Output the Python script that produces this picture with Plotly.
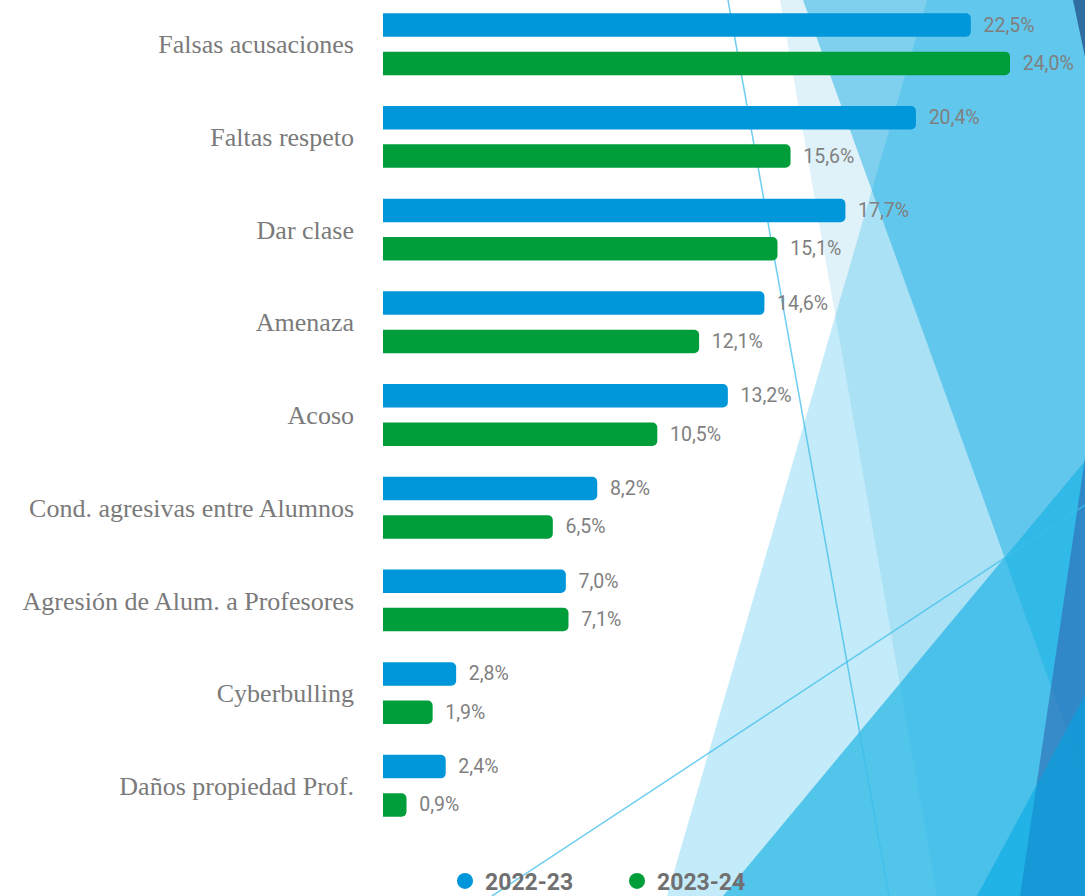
import plotly.graph_objects as go

# ---------------- data ----------------
categories = [
    "Falsas acusaciones",
    "Faltas respeto",
    "Dar clase",
    "Amenaza",
    "Acoso",
    "Cond. agresivas entre Alumnos",
    "Agresión de Alum. a Profesores",
    "Cyberbulling",
    "Daños propiedad Prof.",
]
series_names = ["2022-23", "2023-24"]
values_2022_23 = [22.5, 20.4, 17.7, 14.6, 13.2, 8.2, 7.0, 2.8, 2.4]
values_2023_24 = [24.0, 15.6, 15.1, 12.1, 10.5, 6.5, 7.1, 1.9, 0.9]
series_colors = ["#0096DA", "#009E3A"]

# ---------------- layout geometry (pixels) ----------------
W, H = 1085, 896
ML, MR, MT, MB = 383, 0, 0, 51
PW, PH = W - ML - MR, H - MT - MB


def px(x):
    return (x - ML) / PW


def py(y):
    return (H - MB - y) / PH


def path(pts):
    s = "M " + " L ".join(f"{px(x):.5f},{py(y):.5f}" for x, y in pts) + " Z"
    return s


# decorative background facets (pixel coordinates)
facets = [
    ([(780, 0), (1085, 0), (1085, 896), (937, 896)], "#DFF2FA"),
    ([(803, 0), (1085, 0), (1085, 780)], "#7FD0EE"),
    ([(927, 0), (1085, 0), (1085, 896), (667, 896)], "rgba(10,172,228,0.24)"),
    ([(723, 896), (1085, 461), (1085, 896)], "rgba(25,178,228,0.67)"),
    ([(1085, 458), (1020, 896), (1085, 896)], "rgba(50,120,190,0.75)"),
    ([(977, 896), (1085, 695), (1085, 896)], "rgba(0,165,225,0.55)"),
    ([(1073, 0), (1085, 0), (1085, 57)], "#2F6E9F"),
]
deco_lines = [((728, 0), (889, 896)), ((492, 896), (1085, 505))]

shapes = []
for pts, col in facets:
    shapes.append(dict(type="path", xref="paper", yref="paper", path=path(pts),
                       fillcolor=col, line=dict(width=0), layer="below"))
for (x0, y0), (x1, y1) in deco_lines:
    shapes.append(dict(type="line", xref="paper", yref="paper",
                       x0=px(x0), y0=py(y0), x1=px(x1), y1=py(y1),
                       line=dict(color="rgba(60,190,235,0.75)", width=1.5),
                       layer="below"))

fig = go.Figure()
for name, vals, col in zip(series_names, [values_2022_23, values_2023_24], series_colors):
    fig.add_trace(go.Bar(
        y=categories, x=vals, orientation="h", name=name,
        marker=dict(color=col, line=dict(width=0)),
        texttemplate="\u00a0\u00a0%{x:.1f}%", textposition="outside",
        textfont=dict(family="Roboto, sans-serif", size=19.5, color="#7F7F7F"),
        constraintext="none", cliponaxis=False, showlegend=False,
        hoverinfo="skip",
    ))
    fig.add_trace(go.Scatter(
        x=[None], y=[None], mode="markers", name=name,
        marker=dict(color=col, size=22, symbol="circle"),
        showlegend=True, hoverinfo="skip",
    ))

unit = 92.7
top_center = 44.2
y_top = -top_center / unit
y_bot = (PH - top_center) / unit

fig.update_layout(
    width=W, height=H, autosize=False,
    margin=dict(l=ML, r=MR, t=MT, b=MB, pad=0),
    paper_bgcolor="white", plot_bgcolor="rgba(0,0,0,0)",
    barmode="group", bargap=0.172, bargroupgap=0.388, barcornerradius=5,
    separators=",.",
    shapes=shapes,
    xaxis=dict(range=[0, (W - 383.4) / 26.11], visible=False, fixedrange=True),
    yaxis=dict(categoryorder="array", categoryarray=categories,
               range=[y_bot, y_top], showgrid=False, zeroline=False,
               showline=False, ticks="", ticklabelstandoff=28, fixedrange=True,
               tickfont=dict(family="Liberation Serif, serif", size=26, color="#7A7A7A")),
    legend=dict(orientation="h", xref="paper", x=px(445), xanchor="left",
                yref="container", y=(H - 881) / H, yanchor="middle",
                font=dict(family="Roboto, sans-serif", size=23,
                          color="#707070", weight="bold"),
                bgcolor="rgba(0,0,0,0)", itemsizing="trace",
                entrywidth=127, entrywidthmode="pixels"),
    showlegend=True,
)

fig.write_html("out.html", config={"displayModeBar": False},
               post_script="document.body.style.margin='0';document.body.style.overflow='hidden';")
